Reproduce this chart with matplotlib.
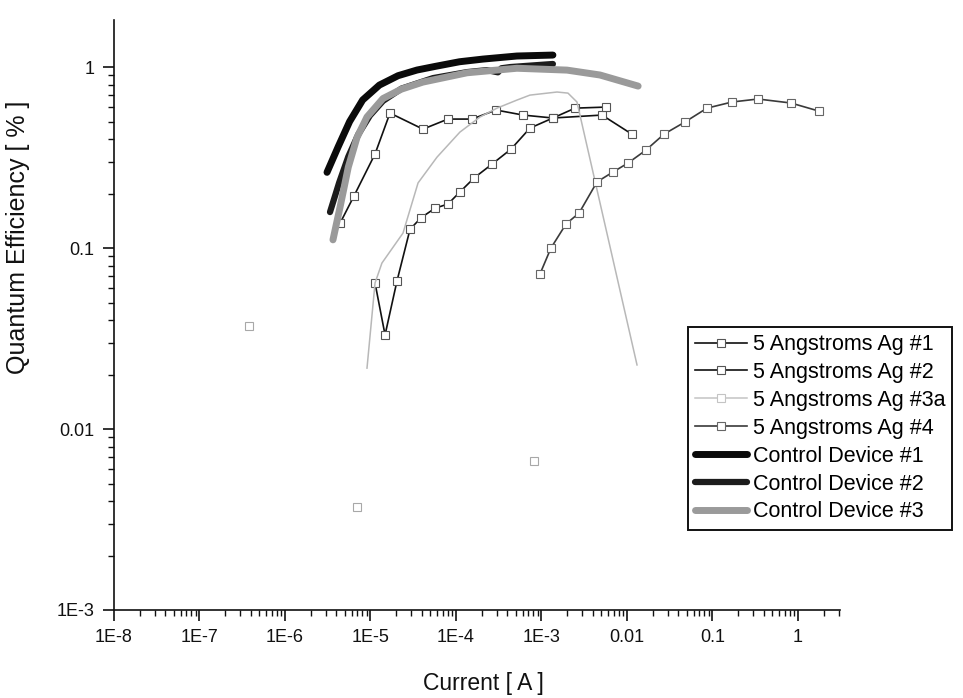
import numpy as np
import matplotlib
matplotlib.use("Agg")
import matplotlib.pyplot as plt
from matplotlib.ticker import FixedLocator, NullFormatter, LogLocator

OUTPUT_FILE = "out.png"

# 5 Angstroms Ag #1
ag1_x = [4.40e-6, 6.41e-6, 1.13e-5, 1.69e-5, 4.11e-5, 8.05e-5, 1.54e-4,
         2.94e-4, 6.08e-4, 1.36e-3, 5.10e-3, 1.14e-2]
ag1_y = [0.137, 0.194, 0.331, 0.557, 0.454, 0.516, 0.516,
         0.579, 0.543, 0.523, 0.543, 0.426]

# 5 Angstroms Ag #2
ag2_x = [1.13e-5, 1.48e-5, 2.04e-5, 2.90e-5, 3.90e-5, 5.68e-5, 8.05e-5,
         1.11e-4, 1.63e-4, 2.64e-4, 4.40e-4, 7.33e-4, 1.36e-3, 2.47e-3, 5.67e-3]
ag2_y = [0.0641, 0.0331, 0.0657, 0.127, 0.147, 0.166, 0.175,
         0.204, 0.244, 0.291, 0.352, 0.460, 0.523, 0.593, 0.601]

# 5 Angstroms Ag #3a (curve + scattered points)
ag3a_x = [9.10e-6, 1.13e-5, 1.36e-5, 2.40e-5, 3.60e-5, 6.00e-5, 1.11e-4,
          1.91e-4, 3.02e-4, 5.16e-4, 7.33e-4, 1.52e-3, 2.04e-3, 2.60e-3, 1.31e-2]
ag3a_y = [0.0217, 0.0641, 0.0826, 0.121, 0.229, 0.318, 0.437,
          0.530, 0.593, 0.657, 0.700, 0.728, 0.718, 0.641, 0.0226]
ag3a_pts_x = [3.79e-7, 6.95e-6, 8.17e-4]
ag3a_pts_y = [0.0372, 0.00371, 0.00665]

# 5 Angstroms Ag #4
ag4_x = [9.59e-4, 1.29e-3, 1.94e-3, 2.75e-3, 4.46e-3, 6.85e-3, 1.03e-2,
         1.67e-2, 2.71e-2, 4.76e-2, 8.63e-2, 0.169, 0.340, 0.828, 1.76]
ag4_y = [0.0718, 0.100, 0.136, 0.156, 0.232, 0.263, 0.295,
         0.348, 0.426, 0.497, 0.593, 0.641, 0.666, 0.633, 0.571]

# Control devices
ctrl1_x = [3.10e-6, 4.20e-6, 5.70e-6, 8.10e-6, 1.27e-5, 2.10e-5, 3.50e-5,
           5.80e-5, 1.10e-4, 2.07e-4, 5.16e-4, 1.36e-3]
ctrl1_y = [0.262, 0.364, 0.500, 0.658, 0.795, 0.896, 0.963,
           1.010, 1.070, 1.107, 1.151, 1.165]

ctrl2_x = [3.36e-6, 4.30e-6, 5.50e-6, 7.20e-6, 9.86e-6, 1.40e-5, 2.30e-5,
           5.38e-5, 1.35e-4, 2.30e-4, 3.10e-4, 3.40e-4, 4.30e-4, 1.36e-3]
ctrl2_y = [0.158, 0.230, 0.320, 0.425, 0.540, 0.650, 0.760,
           0.869, 0.938, 0.962, 0.935, 0.985, 1.000, 1.040]

ctrl3_x = [3.64e-6, 4.40e-6, 5.50e-6, 6.95e-6, 9.10e-6, 1.40e-5, 2.30e-5,
           4.10e-5, 1.35e-4, 5.16e-4, 1.99e-3, 4.83e-3, 1.35e-2]
ctrl3_y = [0.111, 0.168, 0.280, 0.408, 0.530, 0.670, 0.755,
           0.826, 0.930, 0.985, 0.962, 0.904, 0.785]

labels = ["5 Angstroms Ag #1", "5 Angstroms Ag #2", "5 Angstroms Ag #3a",
          "5 Angstroms Ag #4", "Control Device #1", "Control Device #2",
          "Control Device #3"]

x_ticks       = [1e-8, 1e-7, 1e-6, 1e-5, 1e-4, 1e-3, 1e-2, 1e-1, 1]
x_tick_labels = ["1E-8", "1E-7", "1E-6", "1E-5", "1E-4", "1E-3", "0.01", "0.1", "1"]
y_ticks       = [1e-3, 1e-2, 1e-1, 1]
y_tick_labels = ["1E-3", "0.01", "0.1", "1"]


def main():
    plt.rcParams['font.family'] = ['Liberation Sans', 'DejaVu Sans']

    fig = plt.figure(figsize=(9.63, 6.98), dpi=100)
    ax  = fig.add_axes([114 / 963, 1 - 610 / 698, 726 / 963, 590 / 698])

    sq = dict(marker='s', markersize=6, markerfacecolor='white')

    h1, = ax.plot(ag1_x, ag1_y, color='#111111', lw=1.2,
                  markeredgecolor='#555555', markeredgewidth=0.8, **sq)
    h2, = ax.plot(ag2_x, ag2_y, color='#111111', lw=1.2,
                  markeredgecolor='#555555', markeredgewidth=0.8, **sq)
    ax.plot(ag3a_x, ag3a_y, color='#b8b8b8', lw=1.1)
    ax.plot(ag3a_pts_x, ag3a_pts_y, ls='none', markeredgecolor='#a8a8a8',
            markeredgewidth=0.8, **sq)
    h3, = ax.plot([], [], color='#c4c4c4', lw=1.1,
                  markeredgecolor='#c4c4c4', markeredgewidth=0.8, **sq)
    h4, = ax.plot(ag4_x, ag4_y, color='#3a3a3a', lw=1.2,
                  markeredgecolor='#666666', markeredgewidth=0.8, **sq)

    thick = dict(solid_capstyle='round', solid_joinstyle='round')
    h5, = ax.plot(ctrl1_x, ctrl1_y, color='#0a0a0a', lw=5, **thick)
    h6, = ax.plot(ctrl2_x, ctrl2_y, color='#1c1c1c', lw=4.5, **thick)
    h7, = ax.plot(ctrl3_x, ctrl3_y, color='#9a9a9a', lw=5, **thick)

    ax.set_xscale('log')
    ax.set_yscale('log')
    ax.set_xlim(1e-8, 3.1)
    ax.set_ylim(1e-3, 1.82)

    ax.xaxis.set_major_locator(FixedLocator(x_ticks))
    ax.set_xticklabels(x_tick_labels)
    ax.yaxis.set_major_locator(FixedLocator(y_ticks))
    ax.set_yticklabels(y_tick_labels)
    ax.xaxis.set_minor_locator(LogLocator(base=10, subs=np.arange(2, 10), numticks=20))
    ax.yaxis.set_minor_locator(LogLocator(base=10, subs=np.arange(2, 10), numticks=20))
    ax.xaxis.set_minor_formatter(NullFormatter())
    ax.yaxis.set_minor_formatter(NullFormatter())

    ax.tick_params(which='major', direction='out', length=8, width=1.2,
                   labelsize=13, colors='#111111', pad=6)
    ax.tick_params(which='minor', direction='out', length=4, width=1.0,
                   colors='#111111')

    for side in ('top', 'right'):
        ax.spines[side].set_visible(False)
    for side in ('left', 'bottom'):
        ax.spines[side].set_linewidth(1.2)
        ax.spines[side].set_color('#111111')

    ax.set_xlabel("Current [ A ]", fontsize=16.5, color='#111111')
    ax.xaxis.set_label_coords((483 - 114) / 726, -(672 - 610) / 590)
    ax.set_ylabel("Quantum Efficiency [ % ]", fontsize=18, color='#111111')
    ax.yaxis.set_label_coords(-(114 - 30) / 726, (610 - 237) / 590)

    leg = fig.legend([h1, h2, h3, h4, h5, h6, h7], labels,
                     loc='upper left', bbox_to_anchor=(688 / 963, 1 - 327 / 698),
                     borderaxespad=0, fontsize=15.5, numpoints=1,
                     handlelength=2.4, handletextpad=0.28, labelspacing=0.32,
                     borderpad=0.33, fancybox=False, framealpha=1,
                     edgecolor='#111111')
    leg.get_frame().set_linewidth(1.4)

    fig.savefig(OUTPUT_FILE, dpi=100)
    plt.close(fig)


if __name__ == "__main__":
    main()
